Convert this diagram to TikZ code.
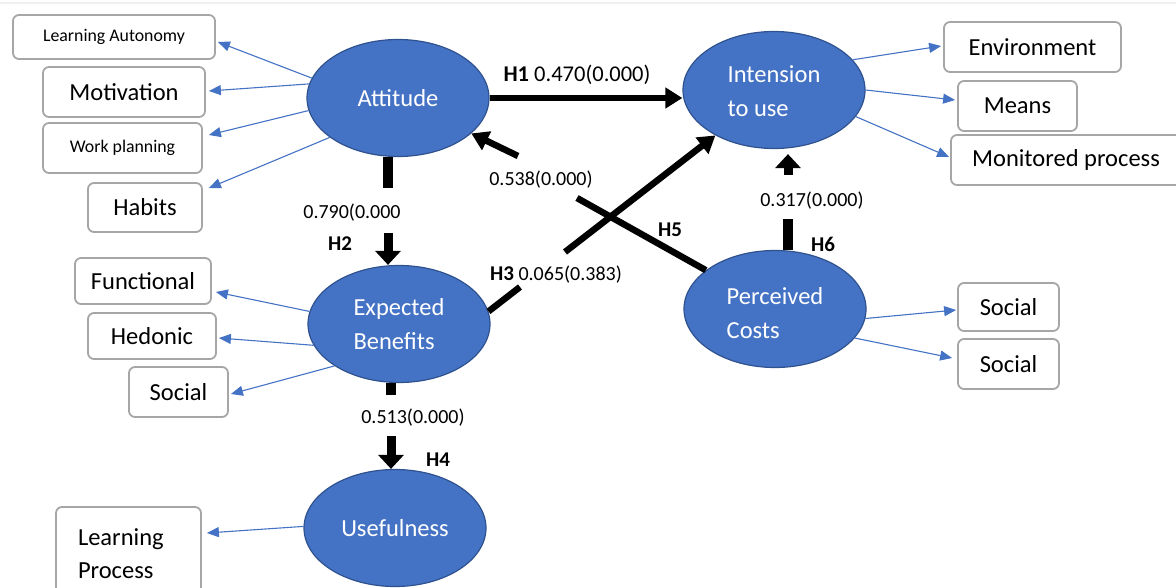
\documentclass[tikz,border=0pt]{standalone}
\usepackage{fontspec}
\setmainfont{Carlito}
\usetikzlibrary{shapes.geometric,arrows.meta,calc}
\definecolor{ofblue}{HTML}{4472C4}
\definecolor{ofborder}{HTML}{2F528F}
\definecolor{boxgray}{HTML}{A6A6A6}
\newcommand{\lowtext}[2]{\raisebox{-#1}[\height][\depth]{\begin{tabular}{@{}l@{}}#2\end{tabular}}}
\begin{document}
\begin{tikzpicture}[x=1pt,y=-1pt,
  lat/.style={ellipse, fill=ofblue, draw=ofborder, line width=1.2pt, minimum width=182pt, minimum height=117pt, inner sep=0pt, text=white, font=\fontsize{24.5}{34}\selectfont, align=left},
  ind/.style={draw=boxgray, line width=1.8pt, rounded corners=6pt, fill=white, inner sep=0pt, font=\fontsize{24.5}{33}\selectfont},
  ld/.style={draw=ofblue, line width=1.1pt, -{Triangle[length=12pt,width=10pt]}},
  dpath/.style={line width=6.5pt, -{Triangle[length=17pt,width=20pt]}},
  dline/.style={line width=6.5pt},
  vpath/.style={line width=9pt, -{Triangle[length=14pt,width=25pt]}},
  vbar/.style={line width=10pt},
  num/.style={font=\fontsize{20}{22}\selectfont, inner sep=0pt},
  hyp/.style={font=\fontsize{21}{22}\selectfont\bfseries, inner sep=0pt}]
\useasboundingbox (0,0) rectangle (1176,588);
\draw[gray!12, line width=1.5pt] (0,3) -- (1176,3);

% latent variables
\node[lat] (att) at (398,98) {Attitude};
\node[lat] (ic) at (774,90) {\lowtext{3pt}{Intension\\to use}};
\node[lat] (eb) at (399,324) {\lowtext{2pt}{Expected\\Benefits}};
\node[lat] (use) at (395,528) {Usefulness};
\node[lat] (pc) at (775,309) {\lowtext{6pt}{Perceived\\Costs}};

% indicator boxes
\node[ind, minimum width=202pt, minimum height=44pt, font=\fontsize{17.8}{20}\selectfont] (la) at (114,37) {Learning Autonomy};
\node[ind, minimum width=162pt, minimum height=50pt] (mot) at (124,92) {Motivation};
\node[ind, minimum width=159pt, minimum height=50pt, font=\fontsize{17.8}{20}\selectfont] (wp) at (122.5,148) {Work planning};
\node[ind, minimum width=114pt, minimum height=49pt] (hab) at (145,207.5) {Habits};
\node[ind, minimum width=136pt, minimum height=46pt] (fun) at (143,281) {Functional};
\node[ind, minimum width=128pt, minimum height=46pt] (hed) at (152,336) {Hedonic};
\node[ind, minimum width=99pt, minimum height=50pt] (soc) at (178.5,392) {Social};
\node[ind, minimum width=145pt, minimum height=93pt, text width=101pt, align=left] (lp) at (128.5,553.5) {Learning\\Process};
\node[ind, minimum width=177pt, minimum height=50pt] (env) at (1032.5,47) {Environment};
\node[ind, minimum width=119pt, minimum height=50pt] (means) at (1017.5,106) {Means};
\node[ind, minimum width=230pt, minimum height=50pt] (mon) at (1066,160) {Monitored process};
\node[ind, minimum width=101pt, minimum height=48pt] (s1) at (1008.5,307) {Social};
\node[ind, minimum width=101pt, minimum height=50pt] (s2) at (1008.5,364) {Social};

% indicator arrows
\draw[ld] (att.167) -- ($(la.east)+(2,5)$);
\draw[ld] (att.171) -- ($(mot.east)+(3,-1)$);
\draw[ld] (att.188) -- ($(wp.east)+(6,-13)$);
\draw[ld] (att.210) -- ($(hab.east)+(6,-19.5)$);
\draw[ld] (eb.172) -- ($(fun.east)+(4,11)$);
\draw[ld] (eb.194) -- ($(hed.east)+(2,2)$);
\draw[ld] (eb.213) -- ($(soc.east)+(2,2)$);
\draw[ld] (use.179) -- ($(lp.east)+(5,-20.5)$);
\draw[ld] (ic.21) -- ($(env.west)+(-2,-1)$);
\draw[ld] (ic.0) -- ($(means.west)+(-2,-6)$);
\draw[ld] (ic.-18) -- ($(mon.west)+(-1,-3)$);
\draw[ld] (pc.-6) -- ($(s1.west)+(-1,3)$);
\draw[ld] (pc.-20) -- ($(s2.west)+(-5,-6)$);

% structural paths
\draw[dpath] (att.east) -- (att.east -| ic.west);

\coordinate (h2a) at (388,188);
\coordinate (h2b) at (388,233);
\draw[vbar] (att.south -| h2a) -- (h2a);
\draw[vpath] (h2b) -- (eb.north -| h2b);

\coordinate (h4a) at (391,395);
\coordinate (h4b) at (391,436);
\draw[vbar] (eb.south -| h4a) -- (h4a);
\draw[vpath] (h4b) -- (use.north -| h4b);

\coordinate (h6a) at (788,219);
\coordinate (h6b) at (788,175);
\draw[vbar] (pc.north -| h6a) -- (h6a);
\draw[vpath] (h6b) -- ($(ic.south -| h6b)+(0,5)$);

\coordinate (h5a) at (577,198);
\coordinate (h5b) at (518,156);
\draw[dline] (pc) -- (h5a);
\draw[dpath] (h5b) -- (att);

\coordinate (h3a) at (520,287);
\coordinate (h3b) at (565,252);
\draw[dline] (eb.8) -- (h3a);
\draw[dpath] (h3b) -- (ic);

% labels
\node[num, font=\fontsize{22.5}{24}\selectfont] (t1) at (577,75) {\textbf{H1} 0.470(0.000)};
\node[num] (t2) at (352,213) {0.790(0.000};
\node[hyp] (t2h) at (340,244) {H2};
\node[num] (t5) at (541,180) {0.538(0.000)};
\node[hyp] (t5h) at (670,230) {H5};
\node[num] (t6) at (812,201) {0.317(0.000)};
\node[hyp] (t6h) at (823,244) {H6};
\node[num, font=\fontsize{20}{22}\selectfont] (t3) at (556,275) {\textbf{\fontsize{21}{22}\selectfont H3} 0.065(0.383)};
\node[num] (t4) at (413,418) {0.513(0.000)};
\node[hyp] (t4h) at (438,460) {H4};
\end{tikzpicture}
\end{document}
